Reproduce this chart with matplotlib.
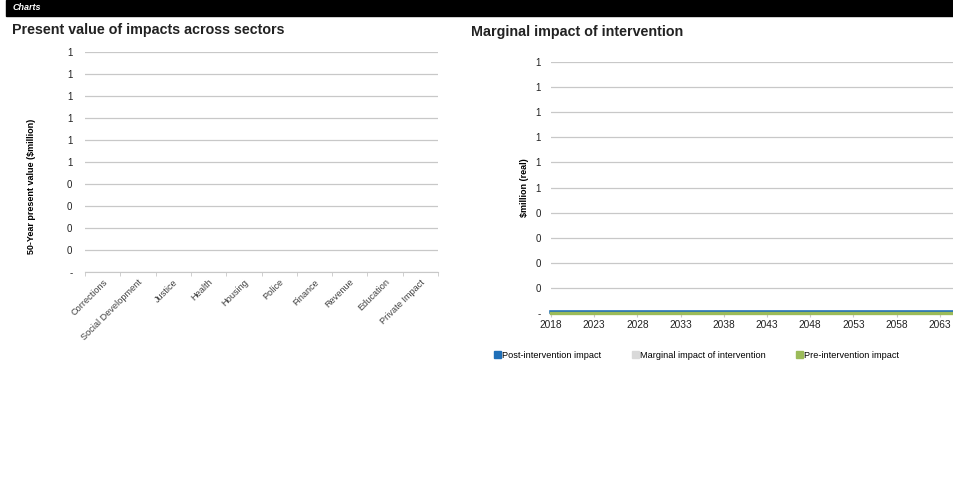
import matplotlib
matplotlib.use("Agg")
import matplotlib.pyplot as plt
from matplotlib.patches import Patch, Rectangle
from matplotlib.ticker import FixedLocator, FuncFormatter
import matplotlib.transforms as mtransforms

plt.rcParams['font.family'] = ['Liberation Sans', 'DejaVu Sans']

# data (everything reads as zero in the reference)
sectors = ['Corrections', 'Social Development', 'Justice', 'Health', 'Housing',
           'Police', 'Finance', 'Revenue', 'Education', 'Private Impact']
sector_pv = [0, 0, 0, 0, 0, 0, 0, 0, 0, 0]

years = list(range(2018, 2068))
post_impact = [0] * len(years)
marginal_impact = [0] * len(years)
pre_impact = [0] * len(years)
year_ticks = list(range(2018, 2064, 5))

blue = '#1f6fb8'
grey = '#d9d9d9'
green = '#9bbb59'
gridc = '#c8c8c8'


def excel_fmt(v, pos):
    # Excel "#,##0;-" style: zero shown as a dash
    if abs(v) < 1e-9:
        return '-'
    return '%d' % int(v + 0.5)


fig = plt.figure(figsize=(9.54, 4.88), dpi=100)

# black header strip
fig.patches.append(Rectangle((6 / 954, 1 - 16 / 488), 1, 16 / 488,
                             transform=fig.transFigure, color='black', zorder=0))
fig.text(13 / 954, 1 - 8 / 488, 'Charts', color='white', fontsize=6.5,
         fontweight='bold', style='italic', va='center', ha='left')

# ---- left chart
ax1 = fig.add_axes([85 / 954, 1 - 272 / 488, 353 / 954, 220 / 488])
ax1.bar(range(len(sectors)), sector_pv, color=blue, width=0.6)
ax1.set_xlim(-0.5, len(sectors) - 0.5)
ax1.set_ylim(0, 1)
ax1.yaxis.set_major_locator(FixedLocator([i / 10 for i in range(11)]))
ax1.yaxis.set_major_formatter(FuncFormatter(excel_fmt))
ax1.set_xticks(range(len(sectors)))
ax1.set_xticklabels(sectors, rotation=45, ha='right', rotation_mode='anchor',
                    fontsize=6.6, color='#404040')
ax1.set_xticks([i - 0.5 for i in range(len(sectors) + 1)], minor=True)
ax1.tick_params(axis='x', which='major', length=0, pad=4)
ax1.tick_params(axis='x', which='minor', length=3, color=gridc)
ax1.tick_params(axis='y', length=0, pad=9, labelsize=7, labelcolor='#222222')
ax1.grid(axis='y', color=gridc, linewidth=0.9)
ax1.set_axisbelow(True)
for s in ['top', 'right', 'left']:
    ax1.spines[s].set_visible(False)
ax1.spines['bottom'].set_color(gridc)
ax1.set_ylabel('50-Year present value ($million)', fontsize=6.5, fontweight='bold')
ax1.yaxis.set_label_coords(-0.14, 0.39)

fig.text(12 / 954, 1 - 30 / 488, 'Present value of impacts across sectors',
         fontsize=10.3, fontweight='bold', color='#222222', va='center')

# ---- right chart
ax2 = fig.add_axes([551 / 954, 1 - 313 / 488, 403 / 954, 251 / 488])
up = mtransforms.offset_copy(ax2.transData, fig=fig, x=0, y=1.0, units='points')
ax2.plot(years, post_impact, color=blue, linewidth=2.6, clip_on=False, zorder=3,
         transform=up)
ax2.plot(years, marginal_impact, color=grey, linewidth=1, clip_on=False, zorder=3)
ax2.plot(years, pre_impact, color=green, linewidth=2.4, clip_on=False, zorder=4)
ax2.set_xlim(2018, 2018 + 403 / 8.64)
ax2.set_ylim(0, 1)
ax2.yaxis.set_major_locator(FixedLocator([i / 10 for i in range(11)]))
ax2.yaxis.set_major_formatter(FuncFormatter(excel_fmt))
ax2.set_xticks(year_ticks)
ax2.tick_params(axis='x', length=3, color=gridc, labelsize=7.3, pad=2,
                labelcolor='#222222')
ax2.tick_params(axis='y', length=0, pad=7.5, labelsize=7, labelcolor='#222222')
ax2.grid(axis='y', color=gridc, linewidth=0.9)
ax2.set_axisbelow(True)
for s in ['top', 'right', 'left']:
    ax2.spines[s].set_visible(False)
ax2.spines['bottom'].set_color(gridc)
ax2.set_ylabel('$million (real)', fontsize=6.5, fontweight='bold')
ax2.yaxis.set_label_coords(-0.055, 0.5)

fig.text(471 / 954, 1 - 32 / 488, 'Marginal impact of intervention',
         fontsize=10.3, fontweight='bold', color='#222222', va='center')

handles = [Patch(color=blue, label='Post-intervention impact'),
           Patch(color=grey, label='Marginal impact of intervention'),
           Patch(color=green, label='Pre-intervention impact')]
fig.legend(handles=handles, loc='center left', ncol=3, frameon=False,
           bbox_to_anchor=(494 / 954, 1 - 355 / 488), fontsize=6.6,
           handlelength=0.75, handleheight=0.75, handletextpad=0.15,
           columnspacing=3.3, borderpad=0, borderaxespad=0)

fig.savefig('out.png', dpi=100, facecolor='white')
